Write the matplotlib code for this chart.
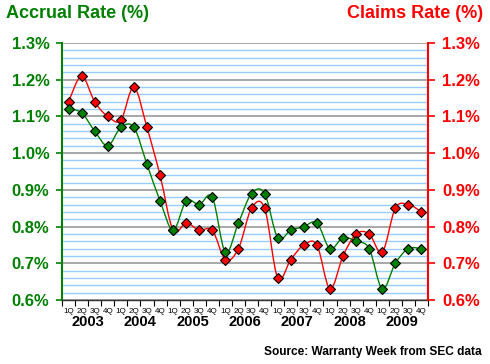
import matplotlib
matplotlib.use("Agg")
import matplotlib.pyplot as plt
import numpy as np
from matplotlib.path import Path
from matplotlib.patches import PathPatch
from matplotlib.ticker import FuncFormatter, MultipleLocator

years = ["2003", "2004", "2005", "2006", "2007", "2008", "2009"]
quarters = ["1Q", "2Q", "3Q", "4Q"]
accrual = [1.12, 1.11, 1.06, 1.02, 1.07, 1.07, 0.97, 0.87,
           0.79, 0.87, 0.86, 0.88, 0.73, 0.81, 0.89, 0.89,
           0.77, 0.79, 0.80, 0.81, 0.74, 0.77, 0.76, 0.74,
           0.63, 0.70, 0.74, 0.74]
claims = [1.14, 1.21, 1.14, 1.10, 1.09, 1.18, 1.07, 0.94,
          0.79, 0.81, 0.79, 0.79, 0.71, 0.74, 0.85, 0.85,
          0.66, 0.71, 0.75, 0.75, 0.63, 0.72, 0.78, 0.78,
          0.73, 0.85, 0.86, 0.84]

GREEN = "#008000"
RED = "#FF0000"
FONT = "Liberation Sans"

fig = plt.figure(figsize=(4.9, 3.64), dpi=100)
fig.patch.set_facecolor("white")
ax = fig.add_axes([62/490, 1-300/364, (428-62)/490, (300-43)/364])

n = len(accrual)
x = np.arange(n)
ax.set_xlim(-0.5, n - 0.5)
ax.set_ylim(0.6, 1.3)

# grid
ax.yaxis.set_major_locator(MultipleLocator(0.1))
ax.yaxis.set_minor_locator(MultipleLocator(0.02))
ax.grid(which="minor", axis="y", color="#99CCFF", linewidth=1.0)
ax.grid(which="major", axis="y", color="#999999", linewidth=1.2)
ax.set_axisbelow(True)


def smooth_path(xs, ys, t=1.0):
    pts = np.column_stack([xs, ys])
    verts = [pts[0]]
    codes = [Path.MOVETO]
    m = len(pts)
    for i in range(m - 1):
        p0 = pts[i - 1] if i > 0 else pts[i]
        p1 = pts[i]
        p2 = pts[i + 1]
        p3 = pts[i + 2] if i + 2 < m else pts[i + 1]
        c1 = p1 + (p2 - p0) / 6.0 * t
        c2 = p2 - (p3 - p1) / 6.0 * t
        verts += [c1, c2, p2]
        codes += [Path.CURVE4] * 3
    return Path(verts, codes)


for ys, col in [(claims, RED), (accrual, GREEN)]:
    ax.add_patch(PathPatch(smooth_path(x, np.array(ys)), facecolor="none",
                           edgecolor=col, linewidth=1.0, zorder=3))
    ax.plot(x, ys, linestyle="none", marker="D", markersize=4.6,
            markerfacecolor=col, markeredgecolor="black", markeredgewidth=0.8,
            zorder=4)

fmt = FuncFormatter(lambda v, p: f"{v:.1f}%")
ax.yaxis.set_major_formatter(fmt)
ax.tick_params(axis="y", which="major", length=4, width=1.2, colors=GREEN, pad=5)
ax.tick_params(axis="y", which="minor", length=0)
for lab in ax.get_yticklabels():
    lab.set_fontfamily(FONT)
    lab.set_fontweight("bold")
    lab.set_fontsize(12)

# x axis
ax.set_xticks(x)
ax.set_xticklabels(quarters * len(years), fontsize=5.8, fontfamily=FONT)
ax.set_xticks(np.arange(-0.5, n, 1.0), minor=True)
ax.tick_params(axis="x", which="major", length=0, pad=6, colors="black")
ax.tick_params(axis="x", which="minor", length=4, width=0.8, color="black")
for i, yr in enumerate(years):
    ax.text(4 * i + 1.5, -0.085, yr, transform=ax.get_xaxis_transform(),
            ha="center", va="center", fontsize=10.5, fontweight="bold",
            fontfamily=FONT, color="black")

ax.spines["left"].set_color(GREEN)
ax.spines["left"].set_linewidth(1.5)
ax.spines["right"].set_visible(False)
ax.spines["top"].set_visible(False)
ax.spines["bottom"].set_color("#333333")
ax.spines["bottom"].set_linewidth(1.0)

ax2 = ax.twinx()
ax2.set_ylim(0.6, 1.3)
ax2.yaxis.set_major_locator(MultipleLocator(0.1))
ax2.yaxis.set_major_formatter(fmt)
ax2.tick_params(axis="y", length=5, width=1.2, colors=RED, pad=5)
for lab in ax2.get_yticklabels():
    lab.set_fontfamily(FONT)
    lab.set_fontweight("bold")
    lab.set_fontsize(12)
for s in ["left", "top", "bottom"]:
    ax2.spines[s].set_visible(False)
ax2.spines["right"].set_color(RED)
ax2.spines["right"].set_linewidth(1.5)

fig.text(6/490, 1-14/364, "Accrual Rate (%)", color=GREEN, fontsize=13,
         fontweight="bold", fontfamily=FONT, ha="left", va="center")
fig.text(483/490, 1-14/364, "Claims Rate (%)", color=RED, fontsize=13,
         fontweight="bold", fontfamily=FONT, ha="right", va="center")
fig.text(482/490, 1-352/364, "Source: Warranty Week from SEC data", color="black",
         fontsize=8.6, fontweight="bold", fontfamily=FONT, ha="right", va="center")

fig.savefig("out.png", dpi=100, facecolor="white")
